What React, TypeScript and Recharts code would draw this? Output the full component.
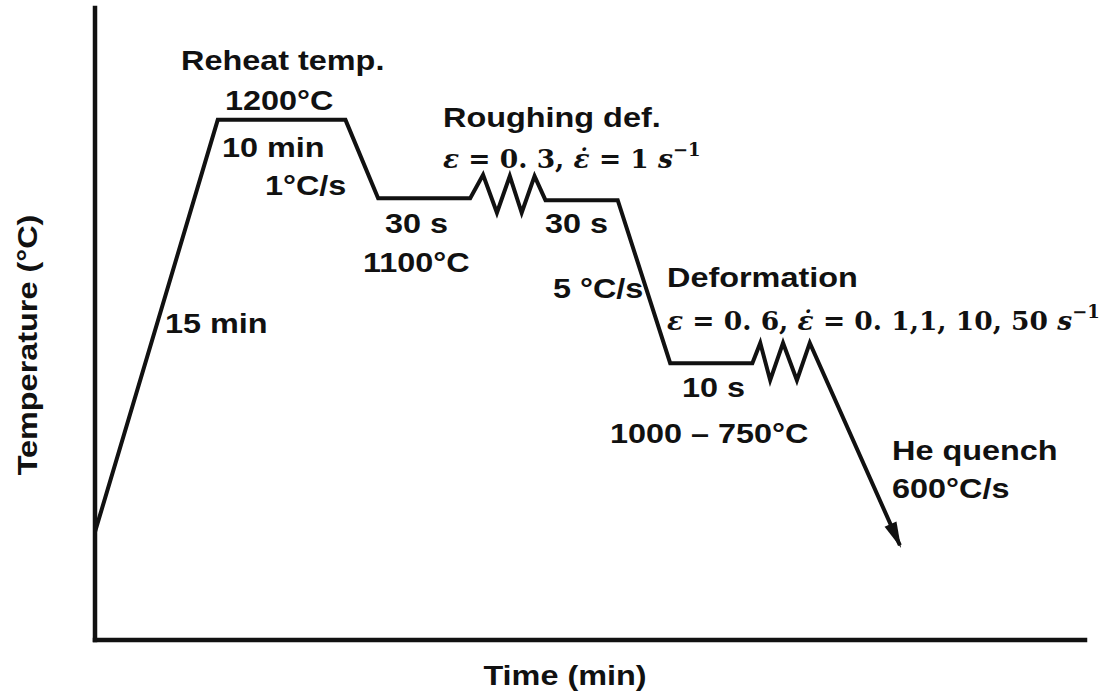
import { LineChart, Line, XAxis, YAxis, Customized } from "recharts";

// Thermomechanical schedule, schematic units (0–100 on both axes)
const stepTime = [0, 12.4, 25.3, 28.6, 37.9, 39.2, 40.6, 41.9, 43.1, 44.4, 45.5, 52.8, 58.1, 66.4, 67.2, 68.2, 69.5, 70.9, 72.2, 81.3];
const stepTemp = [17.1, 82.3, 82.3, 69.9, 69.9, 73.6, 67.6, 73.4, 67.6, 73.4, 69.6, 69.6, 43.8, 43.8, 47.0, 41.1, 47.0, 41.1, 47.0, 15.0];

const schedule = stepTime.map((t, i) => ({ t, temp: stepTemp[i] }));

const INK = "#111";
const SANS = "'Liberation Sans', Arial, sans-serif";
const SERIF = "'DejaVu Serif', serif";

// plain stage notes: text, left x, baseline y
const notes: { text: string; x: number; y: number }[] = [
  { text: "Reheat temp.", x: 181, y: 70 },
  { text: "1200°C", x: 225, y: 110 },
  { text: "10 min", x: 222, y: 157 },
  { text: "1°C/s", x: 265, y: 195 },
  { text: "15 min", x: 165, y: 333 },
  { text: "30 s", x: 385, y: 233 },
  { text: "1100°C", x: 363, y: 272 },
  { text: "30 s", x: 545, y: 233 },
  { text: "5 °C/s", x: 553, y: 298 },
  { text: "Roughing def.", x: 443, y: 127 },
  { text: "Deformation", x: 667, y: 287 },
  { text: "10 s", x: 682, y: 397 },
  { text: "1000 – 750°C", x: 610, y: 443 },
  { text: "He quench", x: 892, y: 460 },
  { text: "600°C/s", x: 892, y: 498 },
];

const SansText = ({ x, y, children, anchor = "start", rotate = 0 }: any) => (
  <text
    transform={`translate(${x},${y}) rotate(${rotate}) scale(1.2,1)`}
    textAnchor={anchor}
    fontFamily={SANS}
    fontWeight={700}
    fontSize={27}
    fill={INK}
  >
    {children}
  </text>
);

const MathLine = ({ x, y, strain, rate }: { x: number; y: number; strain: string; rate: string }) => (
  <text x={x} y={y} fontFamily={SERIF} fontWeight={700} fontSize={26.5} fill={INK}>
    <tspan fontStyle="italic">ε</tspan>
    {` = ${strain}, `}
    <tspan fontStyle="italic">{"ε\u0307"}</tspan>
    {` = ${rate} `}
    <tspan fontStyle="italic">s</tspan>
    <tspan dy={-12} fontSize={18}>−1</tspan>
  </text>
);

const Notes = () => (
  <g>
    {notes.map((n, i) => (
      <SansText key={i} x={n.x} y={n.y}>
        {n.text}
      </SansText>
    ))}
    <MathLine x={443} y={168} strain="0. 3" rate="1" />
    <MathLine x={667} y={330} strain="0. 6" rate="0. 1,1, 10, 50" />
    <SansText x={565} y={685} anchor="middle">
      Time (min)
    </SansText>
    <SansText x={37} y={345} anchor="middle" rotate={-90}>
      Temperature (°C)
    </SansText>
  </g>
);

// arrowhead on the quench segment
const QuenchArrow = (props: any) => {
  const { index, cx, cy, points } = props;
  if (index !== schedule.length - 1 || !points || !points[index - 1]) return <g key={`d${index}`} />;
  const prev = points[index - 1];
  const ang = Math.atan2(cy - prev.y, cx - prev.x);
  const tipX = cx + 3 * Math.cos(ang);
  const tipY = cy + 3 * Math.sin(ang);
  const len = 26;
  const half = 6.5;
  const bx = tipX - len * Math.cos(ang);
  const by = tipY - len * Math.sin(ang);
  const nx = -Math.sin(ang) * half;
  const ny = Math.cos(ang) * half;
  return (
    <polygon
      key="arrow"
      points={`${tipX},${tipY} ${bx + nx},${by + ny} ${bx - nx},${by - ny}`}
      fill={INK}
    />
  );
};

const axisStroke = { stroke: INK, strokeWidth: 4.5, strokeLinecap: "square" as const };

export default function App() {
  return (
    <div style={{ position: "absolute", left: 0, top: 0, background: "#fff" }}>
      <LineChart width={1099} height={700} data={schedule} margin={{ top: 8, right: 14, bottom: 59, left: 94 }}>
        <XAxis
          type="number"
          dataKey="t"
          domain={[0, 100]}
          height={1}
          tick={false}
          tickLine={false}
          axisLine={axisStroke}
        />
        <YAxis
          type="number"
          domain={[0, 100]}
          width={1}
          tick={false}
          tickLine={false}
          axisLine={axisStroke}
        />
        <Line
          type="linear"
          dataKey="temp"
          stroke={INK}
          strokeWidth={4}
          dot={QuenchArrow}
          activeDot={false}
          isAnimationActive={false}
        />
        <Customized component={Notes} />
      </LineChart>
    </div>
  );
}
